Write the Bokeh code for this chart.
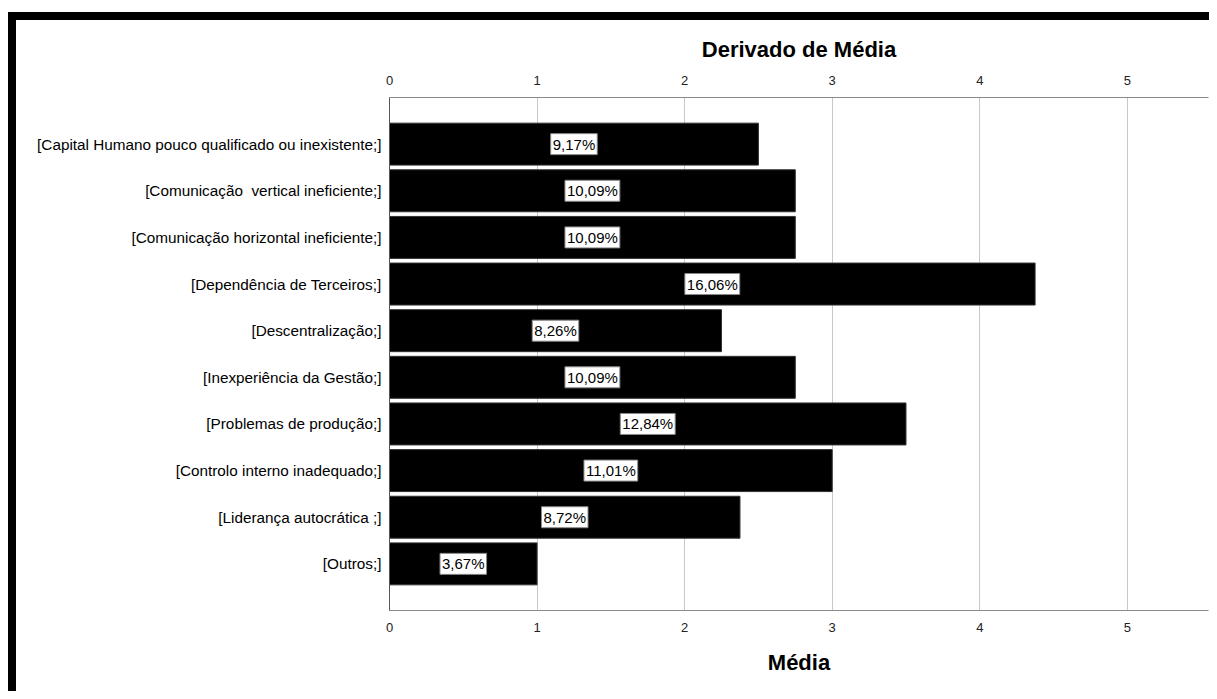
from bokeh.plotting import figure
from bokeh.models import FactorRange, Range1d, LinearAxis, ColumnDataSource, FixedTicker
from bokeh.core.properties import value
from bokeh.embed import file_html
from bokeh.resources import INLINE

# Obstacles and their mean score
categories = [
    "[Capital Humano pouco qualificado ou inexistente;]",
    "[Comunicação \u00a0vertical ineficiente;]",
    "[Comunicação horizontal ineficiente;]",
    "[Dependência de Terceiros;]",
    "[Descentralização;]",
    "[Inexperiência da Gestão;]",
    "[Problemas de produção;]",
    "[Controlo interno inadequado;]",
    "[Liderança autocrática ;]",
    "[Outros;]",
]
means = [2.5, 2.75, 2.75, 4.375, 2.25, 2.75, 3.5, 3.0, 2.375, 1.0]
x_ticks = [0, 1, 2, 3, 4, 5]

# Each bar's share of the summed means, written with a decimal comma
total = sum(means)
pct_labels = [f"{m / total * 100:.2f}%".replace(".", ",") for m in means]

FONT = "Liberation Sans"

src = ColumnDataSource(dict(
    cat=categories,
    mean=means,
    mid=[m / 2 for m in means],
    lbl=pct_labels,
))

p = figure(
    width=1201, height=679,
    y_range=FactorRange(*reversed(categories), range_padding=0.1, range_padding_units="percent"),
    x_range=Range1d(0, 5.55),
    x_axis_location="below",
    output_backend="svg",
    toolbar_location=None,
    min_border_left=373, min_border_top=77, min_border_right=9, min_border_bottom=89,
    styles={"border-top": "8px solid black", "border-left": "8px solid black",
            "margin-top": "12px", "margin-left": "8px"},
)

p.hbar(y="cat", right="mean", left=0, height=0.9, source=src,
       fill_color="black", line_color="#333333", line_width=1)

# Percentage tags in white boxes centred on each bar
p.text(x="mid", y="cat", text="lbl", source=src,
       text_align="center", text_baseline="middle",
       text_font=value(FONT), text_font_size="15px", text_color="black",
       background_fill_color="white", border_line_color="#888888",
       border_line_width=1, padding=2)

# Second value axis along the top, carrying its own title
top_axis = LinearAxis(axis_label="Derivado de Média")
p.add_layout(top_axis, "above")

for ax in p.xaxis:
    ax.ticker = FixedTicker(ticks=x_ticks)
    ax.major_tick_line_color = None
    ax.minor_tick_line_color = None
    ax.axis_line_color = "#8a8a8a"
    ax.major_label_text_font = FONT
    ax.major_label_text_font_size = "13px"
    ax.major_label_text_color = "#222222"
    ax.axis_label_text_font = FONT
    ax.axis_label_text_font_size = "22px"
    ax.axis_label_text_font_style = "bold"
    ax.axis_label_text_color = "black"

top_axis.major_label_standoff = 7
top_axis.axis_label_standoff = 11
bottom_axis = p.below[0]
bottom_axis.axis_label = "Média"
bottom_axis.major_label_standoff = 6
bottom_axis.axis_label_standoff = 15

p.yaxis.major_tick_line_color = None
p.yaxis.minor_tick_line_color = None
p.yaxis.axis_line_color = "#555555"
p.yaxis.major_label_text_font = FONT
p.yaxis.major_label_text_font_size = "15.3px"
p.yaxis.major_label_text_color = "black"
p.yaxis.major_label_standoff = 2

p.ygrid.grid_line_color = None
p.xgrid.grid_line_color = "#c8c8c8"
p.xgrid.ticker = FixedTicker(ticks=x_ticks)
p.outline_line_color = None

open("out.html", "w").write(file_html(p, INLINE))
